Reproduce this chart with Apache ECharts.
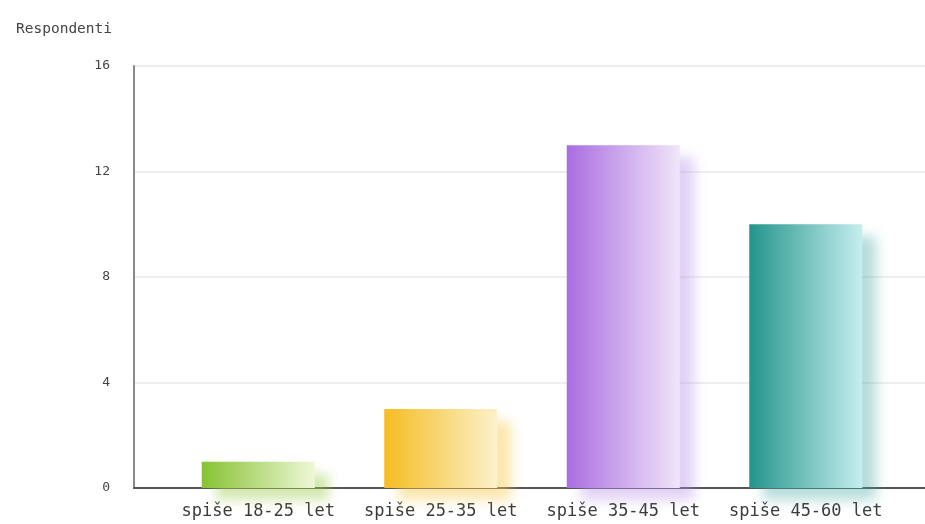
<!DOCTYPE html>
<html>
<head>
<meta charset="utf-8">
<script src="https://cdn.jsdelivr.net/npm/echarts@6/dist/echarts.min.js"></script>
<style>
  html, body { margin: 0; padding: 0; background: #ffffff; }
  #chart { width: 925px; height: 524px; }
</style>
</head>
<body>
<div id="chart"></div>
<script>
// Age groups and respondent counts
const categories = ['spiše 18-25 let', 'spiše 25-35 let', 'spiše 35-45 let', 'spiše 45-60 let'];
const respondents = [1, 3, 13, 10];
const yTicks = { min: 0, max: 16, interval: 4 };
const axisTitle = 'Respondenti';

// Per-bar colour: strong left edge fading to a pale right edge
const barColors = [
  { from: '#86c232', to: '#eef7d6', shadow: 'rgba(160,205,80,0.45)' },
  { from: '#f4bd22', to: '#fdf1cc', shadow: 'rgba(245,200,70,0.45)' },
  { from: '#a96de0', to: '#f0e6fa', shadow: 'rgba(180,140,230,0.40)' },
  { from: '#23958c', to: '#c6eeee', shadow: 'rgba(70,170,165,0.40)' }
];

const chart = echarts.init(document.getElementById('chart'));

const gridTop = 66, gridBottom = 36;
const labelFont = 'DejaVu Sans Mono';

chart.setOption({
  animation: false,
  backgroundColor: '#ffffff',
  title: {
    text: axisTitle,
    left: 11, top: 17,
    textStyle: { fontFamily: labelFont, fontSize: 14.5, fontWeight: 'normal', color: '#444' }
  },
  grid: [
    // frame grid: axis lines and split lines
    { left: 134, right: 0, top: gridTop, bottom: gridBottom },
    // bar grid
    { left: 167, right: 28, top: gridTop, bottom: gridBottom }
  ],
  xAxis: [
    {
      gridIndex: 0, type: 'category', data: [''],
      axisLine: { show: true, lineStyle: { color: '#555', width: 2 } },
      axisTick: { show: false }, axisLabel: { show: false }, splitLine: { show: false }
    },
    {
      gridIndex: 1, type: 'category', data: categories,
      axisLine: { show: false }, axisTick: { show: false },
      axisLabel: { interval: 0, hideOverlap: false, margin: 15, fontFamily: labelFont, fontSize: 17, color: '#3a3a3a' }
    }
  ],
  yAxis: [
    {
      gridIndex: 0, type: 'value', min: yTicks.min, max: yTicks.max, interval: yTicks.interval,
      axisLine: { show: true, lineStyle: { color: '#8a8a8a', width: 2 } },
      axisTick: { show: false },
      axisLabel: { margin: 24, fontFamily: labelFont, fontSize: 13, color: '#444' },
      splitLine: { show: true, lineStyle: { color: '#eeeeee', width: 2 } }
    },
    {
      gridIndex: 1, type: 'value', min: yTicks.min, max: yTicks.max, interval: yTicks.interval,
      show: false, splitLine: { show: false }
    }
  ],
  series: [{
    type: 'bar',
    xAxisIndex: 1, yAxisIndex: 1,
    barWidth: 113,
    data: respondents.map((v, i) => ({
      value: v,
      itemStyle: {
        color: new echarts.graphic.LinearGradient(0, 0, 1, 0, [
          { offset: 0, color: barColors[i].from },
          { offset: 1, color: barColors[i].to }
        ]),
        shadowColor: barColors[i].shadow,
        shadowBlur: 12,
        shadowOffsetX: 14,
        shadowOffsetY: 12
      }
    }))
  }]
});
</script>
</body>
</html>
